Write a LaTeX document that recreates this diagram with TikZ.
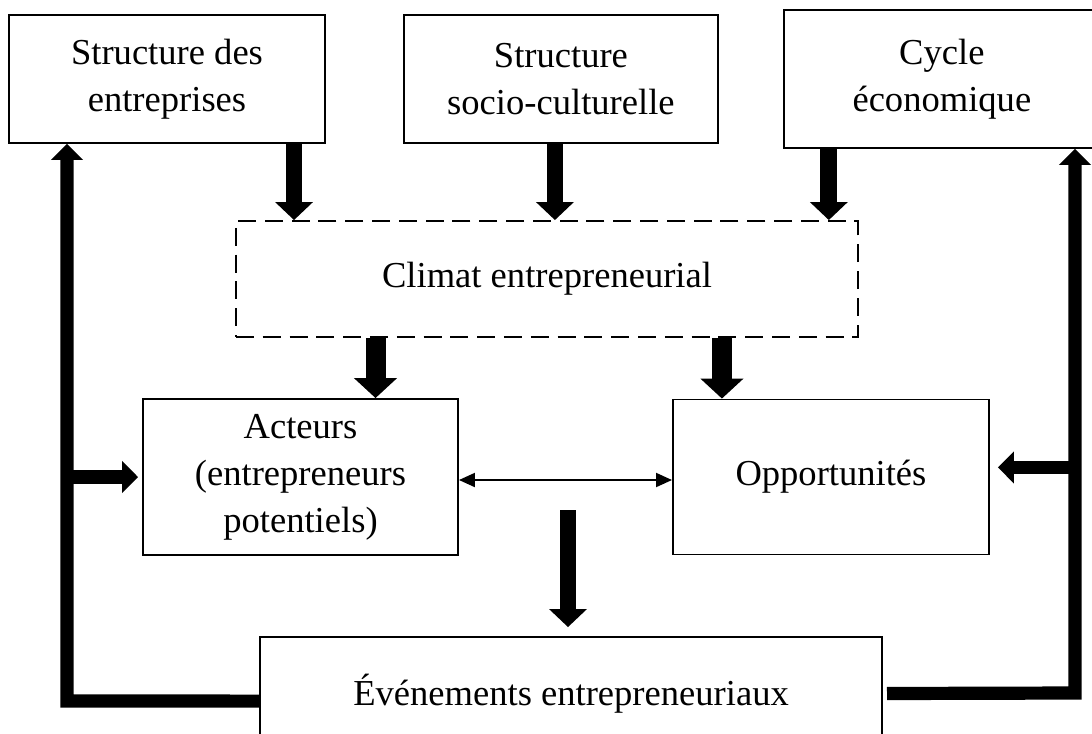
\documentclass[tikz,border=0pt]{standalone}
\usepackage{fontspec}
\setmainfont{Liberation Serif}
\usepackage{tikz}
\usetikzlibrary{arrows.meta, positioning}

\begin{document}
\begin{tikzpicture}[
    x=0.025cm, y=-0.025cm,
    box/.style={rectangle, draw=black, line width=1.3pt, align=center, inner sep=0pt, font=\fontsize{26}{33.5}\selectfont},
    climbox/.style={box, dash pattern=on 0.45cm off 0.22cm},
    blk/.style={-{Triangle[length=0.45cm, width=0.92cm]}, line width=0.42cm},
    bigblk/.style={-{Triangle[length=0.5cm, width=1.05cm]}, line width=0.5cm},
    fb/.style={line width=0.33cm},
    fbarr/.style={fb, -{Triangle[length=0.4cm, width=0.78cm]}},
    biarr/.style={{Triangle[length=0.4cm, width=0.35cm]}-{Triangle[length=0.4cm, width=0.35cm]}, line width=1.4pt},
]
    \useasboundingbox (0,0) rectangle (1092,733);

    % Top boxes
    \node[box, minimum width=7.9cm, minimum height=3.2cm] (ent) at (167,79) {Structure des\\entreprises};
    \node[box, minimum width=7.85cm, minimum height=3.2cm, right=1.925cm of ent] (soc) {Structure\\socio-culturelle};
    \node[box, minimum width=7.9cm, minimum height=3.45cm, right=1.6cm of soc] (cyc) {Cycle\\économique};

    \node[climbox, minimum width=15.55cm, minimum height=2.9cm] (clim) at (547,279) {Climat entrepreneurial};

    \node[box, minimum width=7.875cm, minimum height=3.9cm] (act) at (300.5,477) {Acteurs\\(entrepreneurs\\potentiels)};
    \node[box, minimum width=7.9cm, minimum height=3.875cm, right=5.325cm of act] (opp) {Opportunités};

    \node[box, minimum width=15.55cm, minimum height=2.825cm] (eve) at (571,693.5) {Événements entrepreneuriaux};

    \draw[blk] ([xshift=3.175cm]ent.south) -- ([xshift=3.175cm]ent.south |- clim.north);
    \draw[blk] ([xshift=-0.15cm]soc.south) -- ([xshift=-0.15cm]soc.south |- clim.north);
    \draw[blk] ([xshift=-2.825cm]cyc.south) -- ([xshift=-2.825cm]cyc.south |- clim.north);

    \draw[bigblk] ([xshift=1.875cm]act.north |- clim.south) -- ([xshift=1.875cm]act.north);
    \draw[bigblk] ([xshift=-2.725cm]opp.north |- clim.south) -- ([xshift=-2.725cm]opp.north);

    \draw[biarr] ([yshift=-0.075cm]act.east) -- ([yshift=-0.075cm]opp.west);

    \draw[blk] ([xshift=-0.075cm, yshift=3.15cm]eve.north) -- ([xshift=-0.075cm, yshift=0.225cm]eve.north);

    % Feedback
    \coordinate (fbl) at (67,701);
    \coordinate (fbr) at (1075,693);
    \coordinate (oppin) at ([xshift=0.2cm, yshift=0.24cm]opp.east);
    \draw[fbarr] ([yshift=-0.19cm]eve.west) -- (fbl) -- (fbl |- ent.south);
    \draw[fbarr] (fbl |- act.west) -- ([xshift=-0.1cm]act.west);
    \draw[fbarr] ([xshift=0.1cm]eve.east) -- (fbr) -- (fbr |- cyc.south);
    \draw[fbarr] (fbr |- oppin) -- (oppin);
\end{tikzpicture}
\end{document}
